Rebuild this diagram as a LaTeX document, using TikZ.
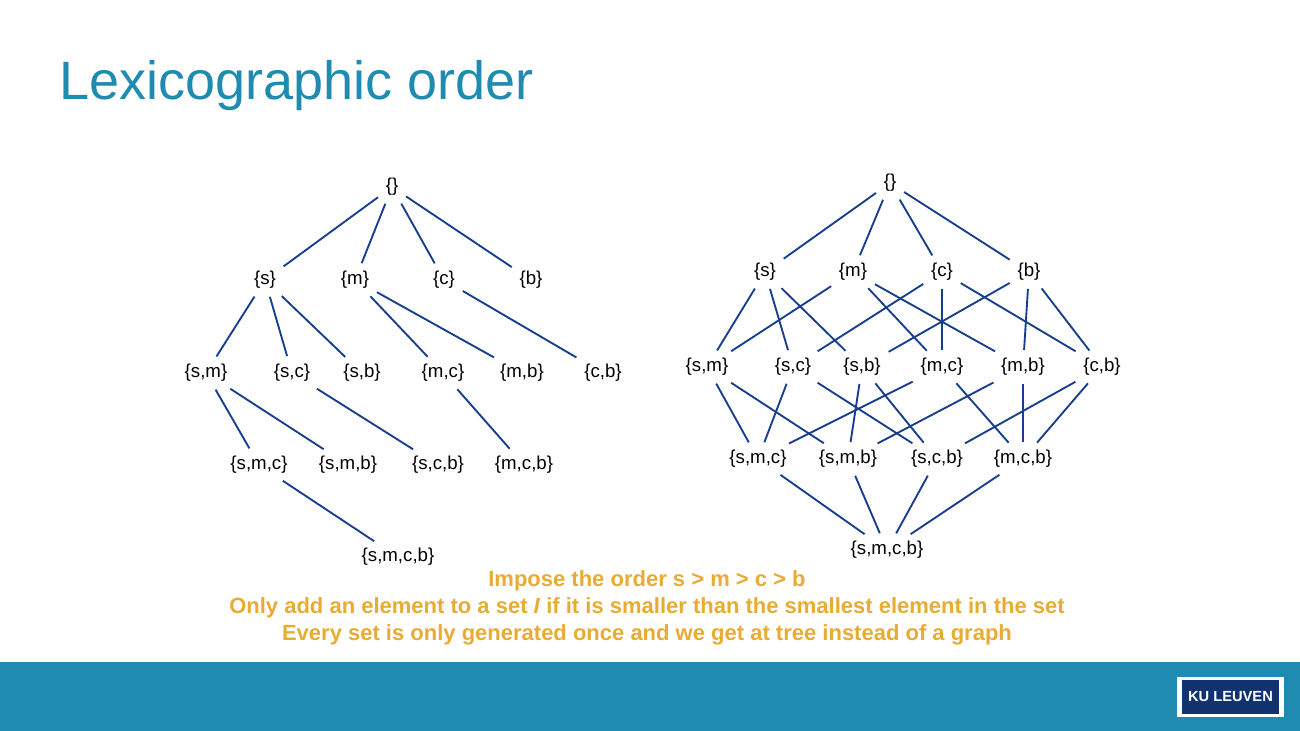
\documentclass[tikz,border=0pt]{standalone}
\usepackage{fontspec}
\setmainfont{Liberation Sans}
\definecolor{kublue}{RGB}{31,139,176}
\definecolor{linkblue}{RGB}{22,62,140}
\definecolor{ordergold}{RGB}{232,172,52}
\definecolor{logoblue}{RGB}{16,50,110}
\tikzset{
    setnode/.style={inner sep=4pt, font=\fontsize{14}{16}\selectfont},
    link/.style={draw=linkblue, line width=1.4pt, shorten <=2pt, shorten >=2pt}
}

\begin{document}
\begin{tikzpicture}[x=0.75pt, y=-0.75pt]
    % frame and footer
    \useasboundingbox (0,0) rectangle (1300,731);
    \fill[kublue] (0,662) rectangle (1300,731);
    \fill[white] (1177,677) rectangle (1284,717);
    \node[fill=logoblue, text=white, font=\bfseries\fontsize{11}{13}\selectfont, minimum width=73pt, minimum height=25pt, inner sep=0pt] (logo) at (1230.5,697) {KU LEUVEN};

    % title
    \node[anchor=west, text=kublue, font=\fontsize{40.5}{48}\selectfont] (title) at (55,86) {Lexicographic order};

    % left tree nodes
    \node[setnode] (le) at (392,187) {\{\}};
    \foreach \n/\x in {s/265, m/355, c/444, b/531}
        \node[setnode] (l\n) at (\x,280) {\{\n\}};
    \foreach \n/\t/\x in {sm/{s,m}/206, sc/{s,c}/292, sb/{s,b}/362, mc/{m,c}/443, mb/{m,b}/522, cb/{c,b}/603}
        \node[setnode] (l\n) at (\x,373) {\{\t\}};
    \foreach \n/\t/\x in {smc/{s,m,c}/259, smb/{s,m,b}/348, scb/{s,c,b}/438, mcb/{m,c,b}/524}
        \node[setnode] (l\n) at (\x,465) {\{\t\}};
    \node[setnode] (lsmcb) at (398,557) {\{s,m,c,b\}};

    % left tree edges
    \foreach \a/\b in {e/s, e/m, e/c, e/b, s/sm, s/sc, s/sb, m/mc, m/mb, c/cb,
                       sm/smc, sm/smb, sc/scb, mc/mcb, smc/smcb}
        \draw[link] (l\a) -- (l\b);

    % right lattice nodes
    \node[setnode] (re) at (890,183) {\{\}};
    \foreach \n/\x in {s/765, m/853, c/942, b/1029}
        \node[setnode] (r\n) at (\x,272) {\{\n\}};
    \foreach \n/\t/\x in {sm/{s,m}/707, sc/{s,c}/793, sb/{s,b}/862, mc/{m,c}/942, mb/{m,b}/1023, cb/{c,b}/1102}
        \node[setnode] (r\n) at (\x,367) {\{\t\}};
    \foreach \n/\t/\x in {smc/{s,m,c}/758, smb/{s,m,b}/848, scb/{s,c,b}/937, mcb/{m,c,b}/1023}
        \node[setnode] (r\n) at (\x,459) {\{\t\}};
    \node[setnode] (rsmcb) at (887,550) {\{s,m,c,b\}};

    % right lattice edges
    \foreach \a/\b in {e/s, e/m, e/c, e/b,
                       s/sm, s/sc, s/sb, m/sm, m/mc, m/mb, c/sc, c/mc, c/cb, b/sb, b/mb, b/cb,
                       sm/smc, sm/smb, sc/smc, sc/scb, sb/smb, sb/scb, mc/smc, mc/mcb,
                       mb/smb, mb/mcb, cb/scb, cb/mcb,
                       smc/smcb, smb/smcb, scb/smcb, mcb/smcb}
        \draw[link] (r\a) -- (r\b);

    % caption
    \node[text=ordergold, font=\bfseries\fontsize{16.5}{20.5}\selectfont, align=center] (caption) at (647,608)
        {Impose the order s > m > c > b\\
         Only add an element to a set \textit{I} if it is smaller than the smallest element in the set\\
         Every set is only generated once and we get at tree instead of a graph};
\end{tikzpicture}
\end{document}
